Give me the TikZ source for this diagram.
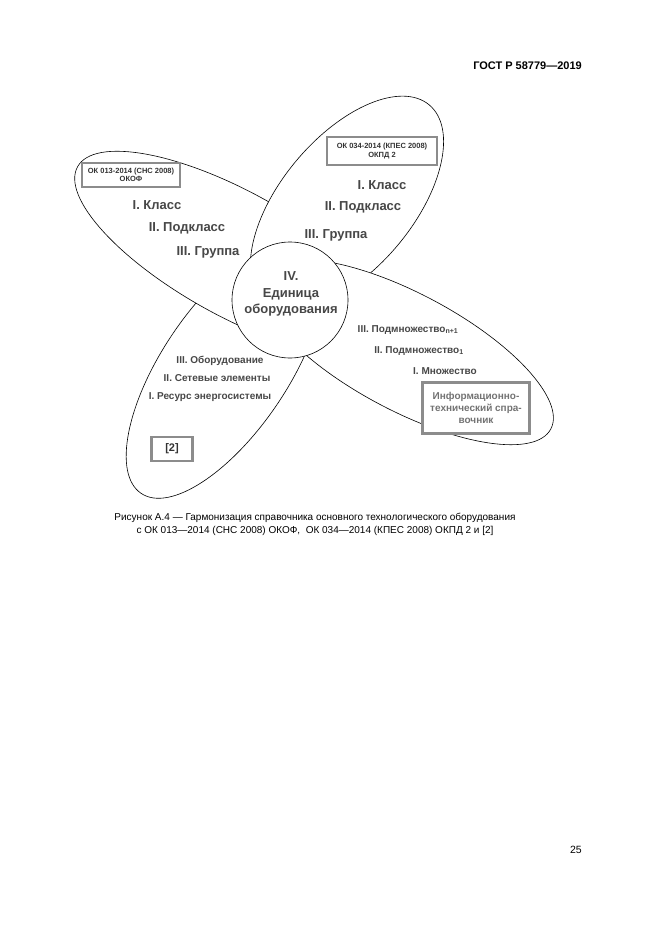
\documentclass[tikz,border=0pt]{standalone}
\usepackage{fontspec}
\setmainfont{Liberation Sans}
\usetikzlibrary{positioning}

\begin{document}
\begin{tikzpicture}[
		x=1pt,y=-1pt,
		every node/.style={inner sep=0pt},
		petal/.style={draw, fill=white, line width=0.6pt},
		lvl/.style={font=\fontsize{13}{16.5}\selectfont\bfseries, text=black!72},
		sublvl/.style={font=\fontsize{10}{12}\selectfont\bfseries, text=black!72},
		srcbox/.style={draw=black!45, line width=2.5pt, fill=white, align=center, text=black!80}
		]
		\useasboundingbox (0,0) rectangle (661,935);
		
		% =========================
		% page head
		% =========================
		\node[anchor=east, font=\fontsize{11}{13}\selectfont\bfseries] (head) at (582,66) {ГОСТ Р 58779—2019};
		
		% =========================
		% petals (back to front)
		% =========================
		\draw[petal, rotate around={56:(225,369)}] (225,369) ellipse (150 and 63);
		\draw[petal, rotate around={-29:(235,254)}] (235,254) ellipse (180 and 62);
		\draw[petal, rotate around={50:(347,203)}] (347,203) ellipse (128 and 66);
		\draw[petal, rotate around={-28:(406,352)}] (406,352) ellipse (164 and 58.5);
		
		% centre
		\node[petal, circle, minimum size=116pt] (hub) at (290,300) {};
		\node[lvl, align=center] (hubtext) at (291,294) {IV.\\Единица\\оборудования};
		
		% =========================
		% upper left: OKOF
		% =========================
		\node[srcbox, minimum width=98pt, minimum height=24pt, font=\fontsize{7.5}{8.5}\selectfont\bfseries] (okof) at (131,175) {ОК 013-2014 (СНС 2008)\\ОКОФ};
		\node[lvl] (okofA) at (157,205) {I. Класс};
		\node[lvl] (okofB) at (187,228) {II. Подкласс};
		\node[lvl] (okofC) at (208,252) {III. Группа};
		
		% =========================
		% upper right: OKPD 2
		% =========================
		\node[srcbox, minimum width=110pt, minimum height=28pt, font=\fontsize{7.5}{8.5}\selectfont\bfseries] (okpd) at (382,151) {ОК 034-2014 (КПЕС 2008)\\ОКПД 2};
		\node[lvl] (okpdA) at (382,185) {I. Класс};
		\node[lvl] (okpdB) at (363,207) {II. Подкласс};
		\node[lvl] (okpdC) at (336,235) {III. Группа};
		
		% =========================
		% lower right: reference book
		% =========================
		\node[sublvl] (itsA) at (408,330) {III. Подмножество\textsubscript{n+1}};
		\node[sublvl] (itsB) at (419,351) {II. Подмножество\textsubscript{1}};
		\node[sublvl] (itsC) at (445,371) {I. Множество};
		\node[srcbox, minimum width=107pt, minimum height=51pt, text=black!55, font=\fontsize{10}{11.7}\selectfont\bfseries] (its) at (476,408) {Информационно-\\технический спра-\\вочник};
		
		% =========================
		% lower left: [2]
		% =========================
		\node[sublvl] (refA) at (220,361) {III. Оборудование};
		\node[sublvl] (refB) at (217,378) {II. Сетевые элементы};
		\node[sublvl] (refC) at (210,397) {I. Ресурс энергосистемы};
		\node[srcbox, minimum width=41pt, minimum height=24pt, font=\fontsize{11}{13}\selectfont\bfseries] (ref) at (172,449) {[2]};
		
		% =========================
		% caption and page number
		% =========================
		\node[align=center, font=\fontsize{10}{13}\selectfont] (caption) at (315,524)
		{Рисунок А.4 — Гармонизация справочника основного технологического оборудования\\
			с ОК 013—2014 (СНС 2008) ОКОФ,~~ОК 034—2014 (КПЕС 2008) ОКПД 2 и [2]};
		\node[anchor=east, font=\fontsize{10.5}{12}\selectfont] (page) at (582,850) {25};
		
	\end{tikzpicture}
\end{document}
